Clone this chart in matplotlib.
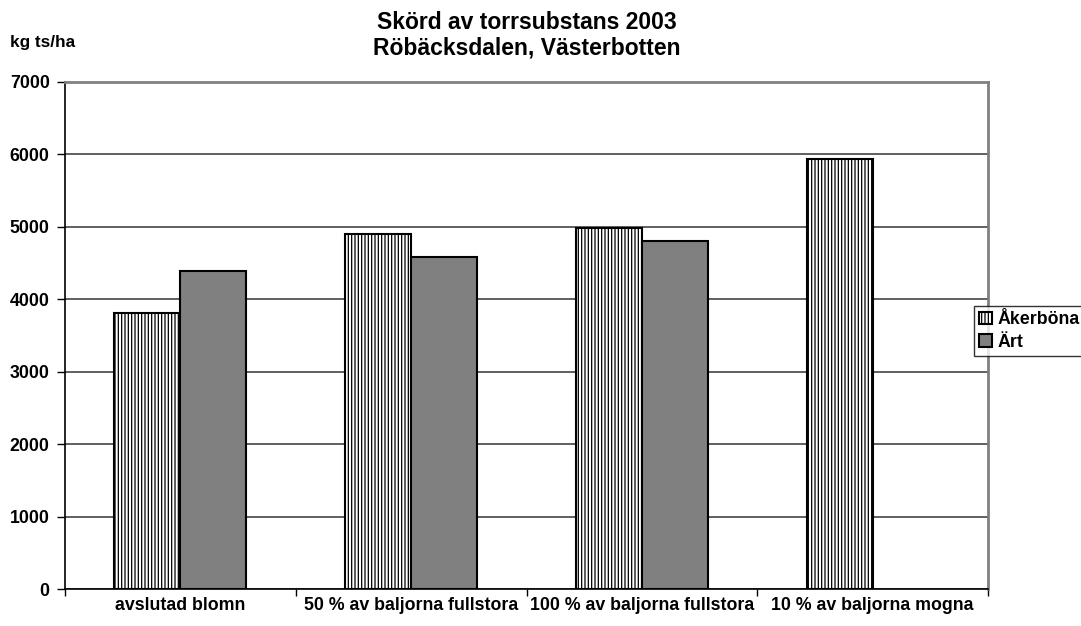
import numpy as np
import matplotlib
matplotlib.use("Agg")
import matplotlib.pyplot as plt

plt.rcParams['font.family'] = ['Liberation Sans', 'DejaVu Sans']
plt.rcParams['font.weight'] = 'bold'
plt.rcParams['hatch.linewidth'] = 0.9

categories = ["avslutad blomn", "50 % av baljorna fullstora",
              "100 % av baljorna fullstora", "10 % av baljorna mogna"]
akerbona = [3810, 4900, 4985, 5940]
art = [4390, 4580, 4810, np.nan]
series_names = ["Åkerböna", "Ärt"]
yticks = [0, 1000, 2000, 3000, 4000, 5000, 6000, 7000]

fig = plt.figure(figsize=(10.81, 6.26), dpi=100)
ax = fig.add_axes([65/1081, 1 - 589/626, 923/1081, 507/626])

x = np.arange(len(categories))
w = 0.286
ax.bar(x - w/2, akerbona, w, facecolor='white', edgecolor='black',
       hatch='|||||', linewidth=1.5, label=series_names[0], zorder=3)
ax.bar(x + w/2, art, w, facecolor='#808080', edgecolor='black',
       linewidth=1.5, label=series_names[1], zorder=3)

ax.set_xlim(-0.5, len(categories) - 0.5)
ax.set_ylim(0, 7000)
ax.set_yticks(yticks)
ax.yaxis.grid(True, color='#444444', linewidth=1.2, zorder=0)
ax.set_axisbelow(True)

ax.set_xticks(x)
ax.set_xticklabels(categories, fontsize=12.8, fontweight='bold')
ax.set_xticks(np.arange(-0.5, len(categories)), minor=True)
ax.tick_params(axis='x', which='major', length=0, pad=6)
ax.tick_params(axis='x', which='minor', length=5, width=1, color='black', direction='out')
ax.tick_params(axis='y', length=6, width=1, direction='out', pad=5, labelsize=12.8)
for lab in ax.get_yticklabels():
    lab.set_fontweight('bold')

for s in ['left', 'bottom']:
    ax.spines[s].set_color('black')
    ax.spines[s].set_linewidth(1.2)
for s in ['top', 'right']:
    ax.spines[s].set_color('#808080')
    ax.spines[s].set_linewidth(2)

ax.set_title("Skörd av torrsubstans 2003\nRöbäcksdalen, Västerbotten",
             fontsize=16.5, fontweight='bold', pad=20, linespacing=1.12)
fig.text(10/1081, 1 - 43/626, "kg ts/ha", fontsize=12.3, fontweight='bold',
         ha='left', va='center')

leg = fig.legend(loc='upper left', bbox_to_anchor=(974/1081, 1 - 306/626),
                 frameon=True, fancybox=False, shadow=False, fontsize=12.8,
                 handlelength=0.7, handleheight=0.7, handletextpad=0.3,
                 borderpad=0.3, labelspacing=0.3, borderaxespad=0)
leg.get_frame().set_edgecolor('black')
leg.get_frame().set_linewidth(1)
for t in leg.get_texts():
    t.set_fontweight('bold')

fig.savefig("out.png", dpi=100, facecolor='white')
